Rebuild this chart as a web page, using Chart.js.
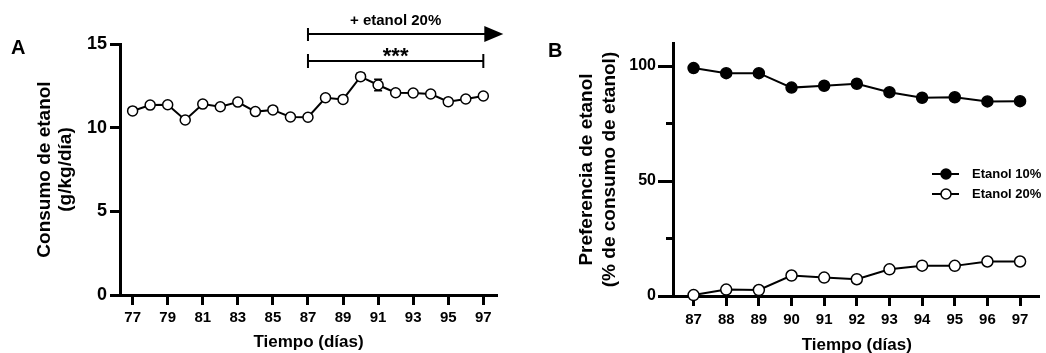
<!DOCTYPE html>
<html>
<head>
<meta charset="utf-8">
<script src="https://cdn.jsdelivr.net/npm/chart.js@4.4.1/dist/chart.umd.min.js"></script>
<style>
    body { margin: 0; background: #fff; }
    #chartA { position: absolute; left: 0; top: 0; }
    #chartB { position: absolute; left: 520px; top: 0; }
</style>
</head>
<body>
<canvas id="chartA" width="520" height="353"></canvas>
<canvas id="chartB" width="526" height="353"></canvas>
<script>
// Panel A - consumo de etanol
const diasA = [77, 78, 79, 80, 81, 82, 83, 84, 85, 86, 87, 88, 89, 90, 91, 92, 93, 94, 95, 96, 97];
const consumo = [11.0, 11.35, 11.37, 10.46, 11.41, 11.25, 11.53, 10.96, 11.06, 10.64, 10.62, 11.79, 11.69, 13.05, 12.55, 12.09, 12.07, 12.01, 11.55, 11.71, 11.89];
const consumoErr = [0, 0, 0, 0, 0, 0, 0, 0, 0, 0, 0, 0, 0, 0.2, 0.35, 0.15, 0.1, 0.1, 0.2, 0.12, 0.12];
const xTicksA = [77, 79, 81, 83, 85, 87, 89, 91, 93, 95, 97];
const yTicksA = [0, 5, 10, 15];

// Panel B - preferencia
const diasB = [87, 88, 89, 90, 91, 92, 93, 94, 95, 96, 97];
const etanol10 = [99.1, 96.9, 96.9, 90.6, 91.4, 92.3, 88.6, 86.2, 86.4, 84.6, 84.7];
const etanol20 = [0.4, 2.8, 2.6, 8.9, 8.0, 7.3, 11.6, 13.2, 13.1, 15.0, 15.0];
const yTicksB = [0, 25, 50, 75, 100];
const yLabelsB = [0, 50, 100];

const FONT = "'Liberation Sans', Arial, sans-serif";
const toXY = (xs, ys) => xs.map((x, i) => ({ x, y: ys[i] }));

const axisStyle = (fontSize, tickLen, pad) => ({
    grid: { display: true, drawOnChartArea: false, tickColor: '#000', tickWidth: 3, tickLength: tickLen },
    border: { display: true, color: '#000', width: 3 },
    ticks: { color: '#000', font: { family: FONT, size: fontSize, weight: 'bold' }, padding: pad, autoSkip: false, maxRotation: 0 }
});

const vText = (ctx, txt, x, y) => {
    ctx.save();
    ctx.translate(x, y);
    ctx.rotate(-Math.PI / 2);
    ctx.fillText(txt, 0, 0);
    ctx.restore();
};

const errorBars = {
    id: 'errorBars',
    beforeDatasetsDraw(chart) {
        const { ctx, scales: { x, y } } = chart;
        ctx.save();
        ctx.strokeStyle = '#000';
        ctx.lineWidth = 1.5;
        diasA.forEach((d, i) => {
            const e = consumoErr[i];
            if (!e) return;
            const px = x.getPixelForValue(d);
            const top = y.getPixelForValue(consumo[i] + e);
            const bot = y.getPixelForValue(consumo[i] - e);
            ctx.beginPath();
            ctx.moveTo(px, top); ctx.lineTo(px, bot);
            ctx.moveTo(px - 4, top); ctx.lineTo(px + 4, top);
            ctx.moveTo(px - 4, bot); ctx.lineTo(px + 4, bot);
            ctx.stroke();
        });
        ctx.restore();
    }
};

const textA = {
    id: 'textA',
    afterDraw(chart) {
        const { ctx, scales: { x, y } } = chart;
        ctx.save();
        ctx.fillStyle = '#000';
        ctx.strokeStyle = '#000';
        ctx.font = `bold 20px ${FONT}`;
        ctx.textAlign = 'left';
        ctx.textBaseline = 'middle';
        ctx.fillText('A', 11, 48);

        // axis titles
        const midY = (y.top + y.bottom) / 2;
        ctx.font = `bold 19px ${FONT}`;
        ctx.textAlign = 'center';
        vText(ctx, 'Consumo de etanol', 45, midY);
        vText(ctx, '(g/kg/día)', 66, midY);
        ctx.font = `bold 17px ${FONT}`;
        ctx.fillText('Tiempo (días)', (x.left + x.right) / 2, 342);

        // + etanol 20% arrow and *** bracket
        const x0 = x.getPixelForValue(87);
        const x1 = x.getPixelForValue(97);
        const mid = (x0 + x1) / 2;
        ctx.lineWidth = 2;
        ctx.beginPath();
        ctx.moveTo(x0, 34); ctx.lineTo(x1 + 4, 34);
        ctx.moveTo(x0, 28); ctx.lineTo(x0, 41);
        ctx.moveTo(x0, 61); ctx.lineTo(x1, 61);
        ctx.moveTo(x0, 54); ctx.lineTo(x0, 68);
        ctx.moveTo(x1, 54); ctx.lineTo(x1, 68);
        ctx.stroke();
        ctx.beginPath();
        ctx.moveTo(x1 + 1, 26); ctx.lineTo(x1 + 20, 34); ctx.lineTo(x1 + 1, 42);
        ctx.closePath();
        ctx.fill();
        ctx.font = `bold 15px ${FONT}`;
        ctx.fillText('+ etanol 20%', mid, 21);
        ctx.font = `bold 22px ${FONT}`;
        ctx.fillText('***', mid, 57);
        ctx.restore();
    }
};

const textB = {
    id: 'textB',
    afterDraw(chart) {
        const { ctx, scales: { x, y } } = chart;
        ctx.save();
        ctx.fillStyle = '#000';
        ctx.strokeStyle = '#000';
        ctx.font = `bold 20px ${FONT}`;
        ctx.textAlign = 'left';
        ctx.textBaseline = 'middle';
        ctx.fillText('B', 28, 51);

        // minor ticks at 25 and 75
        ctx.lineWidth = 3;
        ctx.beginPath();
        yTicksB.filter(v => !yLabelsB.includes(v)).forEach(v => {
            const py = y.getPixelForValue(v);
            ctx.moveTo(y.right - 7, py); ctx.lineTo(y.right, py);
        });
        ctx.stroke();

        const midY = (y.top + y.bottom) / 2;
        ctx.font = `bold 19px ${FONT}`;
        ctx.textAlign = 'center';
        vText(ctx, 'Preferencia de etanol', 67, midY);
        vText(ctx, '(% de consumo de etanol)', 90, midY);
        ctx.font = `bold 17px ${FONT}`;
        ctx.fillText('Tiempo (días)', (x.getPixelForValue(87) + x.getPixelForValue(97)) / 2, 345);

        // legend
        const rows = [[chart.data.datasets[0], 174], [chart.data.datasets[1], 194]];
        ctx.font = `bold 13px ${FONT}`;
        ctx.textAlign = 'left';
        rows.forEach(([ds, ly]) => {
            ctx.lineWidth = 2;
            ctx.beginPath();
            ctx.moveTo(412, ly); ctx.lineTo(439, ly);
            ctx.stroke();
            ctx.beginPath();
            ctx.arc(426, ly, 5, 0, Math.PI * 2);
            ctx.fillStyle = ds.pointBackgroundColor;
            ctx.fill();
            ctx.lineWidth = 1.5;
            ctx.stroke();
            ctx.fillStyle = '#000';
            ctx.fillText(ds.label, 452, ly);
        });
        ctx.restore();
    }
};

new Chart(document.getElementById('chartA'), {
    type: 'line',
    data: {
        datasets: [{
            label: 'Consumo',
            data: toXY(diasA, consumo),
            borderColor: '#000',
            borderWidth: 2,
            pointRadius: 5,
            pointBackgroundColor: '#fff',
            pointBorderColor: '#000',
            pointBorderWidth: 1.5,
            tension: 0,
            clip: false
        }]
    },
    options: {
        responsive: false,
        animation: false,
        layout: { padding: { top: 44, right: 23, left: 0, bottom: 0 } },
        plugins: { legend: { display: false }, tooltip: { enabled: false } },
        scales: {
            x: {
                type: 'linear',
                min: 76.28,
                max: 97.78,
                afterBuildTicks: (s) => { s.ticks = xTicksA.map(v => ({ value: v })); },
                afterFit: (s) => { s.height = 58; },
                ...axisStyle(15, 10, 4)
            },
            y: {
                min: 0,
                max: 15,
                afterBuildTicks: (s) => { s.ticks = yTicksA.map(v => ({ value: v })); },
                afterFit: (s) => { s.width = 120; },
                ...axisStyle(18, 10, 3)
            }
        }
    },
    plugins: [errorBars, textA]
});

const yStyleB = axisStyle(16, 15, 2);
yStyleB.grid.tickColor = (c) => yLabelsB.includes(c.tick && c.tick.value) ? '#000' : 'rgba(0,0,0,0)';
yStyleB.ticks.callback = (v) => yLabelsB.includes(v) ? String(v) : '';

new Chart(document.getElementById('chartB'), {
    type: 'line',
    data: {
        datasets: [
            {
                label: 'Etanol 10%',
                data: toXY(diasB, etanol10),
                borderColor: '#000',
                borderWidth: 2,
                pointRadius: 5.5,
                pointBackgroundColor: '#000',
                pointBorderColor: '#000',
                pointBorderWidth: 1.5,
                tension: 0,
                clip: false
            },
            {
                label: 'Etanol 20%',
                data: toXY(diasB, etanol20),
                borderColor: '#000',
                borderWidth: 2,
                pointRadius: 5.5,
                pointBackgroundColor: '#fff',
                pointBorderColor: '#000',
                pointBorderWidth: 1.5,
                tension: 0,
                clip: false
            }
        ]
    },
    options: {
        responsive: false,
        animation: false,
        layout: { padding: { top: 43, right: 0, left: 0, bottom: 0 } },
        plugins: { legend: { display: false }, tooltip: { enabled: false } },
        scales: {
            x: {
                type: 'linear',
                min: 86.37,
                max: 97.58,
                afterBuildTicks: (s) => { s.ticks = diasB.map(v => ({ value: v })); },
                afterFit: (s) => { s.height = 57; },
                ...axisStyle(15, 10, 5)
            },
            y: {
                min: 0,
                max: 110,
                afterBuildTicks: (s) => { s.ticks = yTicksB.map(v => ({ value: v })); },
                afterFit: (s) => { s.width = 153; },
                ...yStyleB
            }
        }
    },
    plugins: [textB]
});
</script>
</body>
</html>
